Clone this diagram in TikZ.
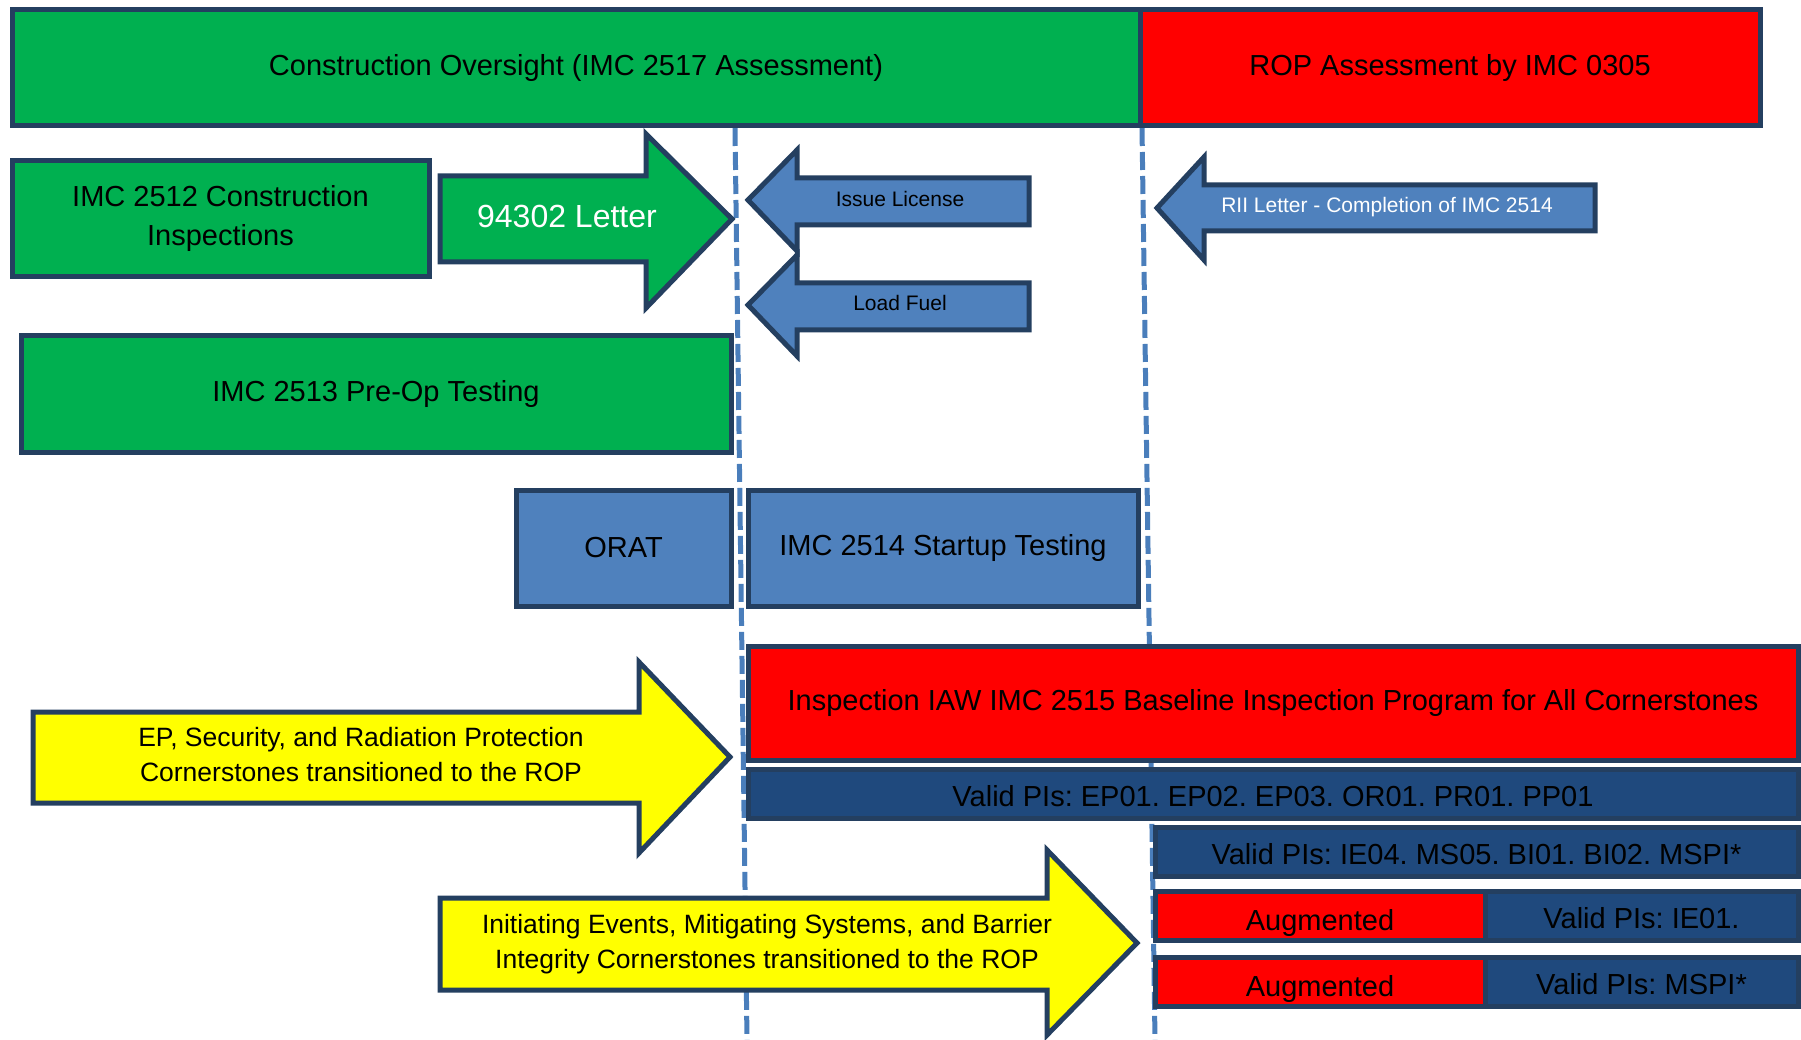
\documentclass[tikz,border=0pt]{standalone}
\usepackage{fontspec}
\setmainfont{Liberation Sans}
\usepackage{xcolor}
\usepackage{tikz}
\usetikzlibrary{positioning}
\frenchspacing

\definecolor{ocgreen}{HTML}{00B050}
\definecolor{ocred}{HTML}{FF0000}
\definecolor{ocblue}{HTML}{4F81BD}
\definecolor{ocnavy}{HTML}{1F497D}
\definecolor{ocedge}{HTML}{243F60}
\definecolor{ocyellow}{HTML}{FFFF00}
\definecolor{ocdash}{HTML}{4A7EBB}

\begin{document}
\begin{tikzpicture}[x=1pt, y=-1pt,
  box/.style={draw=ocedge, line width=5pt, outer sep=0pt, inner sep=0pt, align=center, font=\fontsize{29}{39}\selectfont},
  pibox/.style={box, fill=ocnavy, minimum height=49pt, text height=26pt, text depth=0pt},
  augbox/.style={box, fill=ocred, minimum width=330pt, minimum height=49pt},
  blockarrow/.style={draw=ocedge, line width=5pt},
  arrowtext/.style={inner sep=0pt, align=center},
  phase/.style={ocdash, line width=5pt, dash pattern=on 18pt off 6pt},
]
\useasboundingbox (0,0) rectangle (1801,1040);

% phase boundaries
\coordinate (load top) at (735,128);
\coordinate (load bot) at (747,1040);
\coordinate (rop top) at (1142,128);
\coordinate (rop bot) at (1155,1040);
\draw[phase] (load top) -- (load bot);
\draw[phase] (rop top) -- (rop bot);

% assessment bar
\node[box, fill=ocgreen, minimum width=1128pt, minimum height=116pt] (co) at (576,68) {Construction Oversight (IMC 2517 Assessment)};
\node[box, fill=ocred, minimum width=620pt, minimum height=116pt, right=0pt of co] (rop) {ROP Assessment by IMC 0305};

% construction phase
\node[box, fill=ocgreen, minimum width=417pt, minimum height=116pt] (insp2512) at (220.5,219) {IMC 2512 Construction\\Inspections};
\draw[blockarrow, fill=ocgreen] (440,176) -- (646,176) -- (646,134) -- (732,219) -- (646,308) -- (646,262) -- (440,262) -- cycle;
\node[arrowtext, text=white, font=\fontsize{32}{38}\selectfont] (letter) at (567,216) {94302 Letter};
\node[box, fill=ocgreen, minimum width=710pt, minimum height=116pt] (preop) at (376,394) {IMC 2513 Pre-Op Testing};

% license and fuel load
\draw[blockarrow, fill=ocblue] (1029,178) -- (797,178) -- (797,150) -- (748,200) -- (797,251) -- (797,225) -- (1029,225) -- cycle;
\node[arrowtext, font=\fontsize{21}{25}\selectfont] (license) at (900,199) {Issue License};
\draw[blockarrow, fill=ocblue] (1029,283) -- (797,283) -- (797,255) -- (748,305) -- (797,356) -- (797,330) -- (1029,330) -- cycle;
\node[arrowtext, font=\fontsize{21}{25}\selectfont] (fuel) at (900,303) {Load Fuel};
\draw[blockarrow, fill=ocblue] (1595,185) -- (1204,185) -- (1204,157) -- (1157,208) -- (1204,260) -- (1204,231) -- (1595,231) -- cycle;
\node[arrowtext, text=white, font=\fontsize{21}{25}\selectfont] (rii) at (1387,207) {RII Letter - Completion of IMC 2514};

% startup testing
\node[box, fill=ocblue, minimum width=215pt, minimum height=116pt] (orat) at (623.5,548) {ORAT};
\node[box, fill=ocblue, minimum width=390pt, minimum height=116pt, right=17pt of orat] (startup) {IMC 2514 Startup Testing};

% baseline inspection and PIs
\node[box, fill=ocred, minimum width=1050pt, minimum height=114pt] (baseline) at (1273,703) {Inspection IAW IMC 2515 Baseline Inspection Program for All Cornerstones};
\node[pibox, minimum width=1050pt, below=9pt of baseline] (pi1) {Valid PIs: EP01. EP02. EP03. OR01. PR01. PP01};
\node[pibox, minimum width=643pt] (pi2) at (1476.5,851.5) {Valid PIs: IE04. MS05. BI01. BI02. MSPI*};
\node[augbox] (aug1) at (1320,915.5) {\raisebox{-15pt}[0pt][0pt]{Augmented}};
\node[pibox, minimum width=313pt, right=0pt of aug1] (pi3) {Valid PIs: IE01.};
\node[augbox] (aug2) at (1320,981.5) {\raisebox{-15pt}[0pt][0pt]{Augmented}};
\node[pibox, minimum width=313pt, right=0pt of aug2] (pi4) {Valid PIs: MSPI*};

% cornerstone transitions
\draw[blockarrow, fill=ocyellow] (33,712) -- (639,712) -- (639,662) -- (730,757) -- (639,853) -- (639,803) -- (33,803) -- cycle;
\node[arrowtext, font=\fontsize{26.5}{35}\selectfont] (epsec) at (361,754.5) {EP, Security, and Radiation Protection\\Cornerstones transitioned to the ROP};
\draw[blockarrow, fill=ocyellow] (440,898) -- (1047,898) -- (1047,850) -- (1137,943) -- (1047,1035) -- (1047,990) -- (440,990) -- cycle;
\node[arrowtext, font=\fontsize{26.5}{35}\selectfont] (iems) at (767,944) {Initiating Events, Mitigating Systems, and Barrier\\Integrity Cornerstones transitioned to the ROP};
\end{tikzpicture}
\end{document}
